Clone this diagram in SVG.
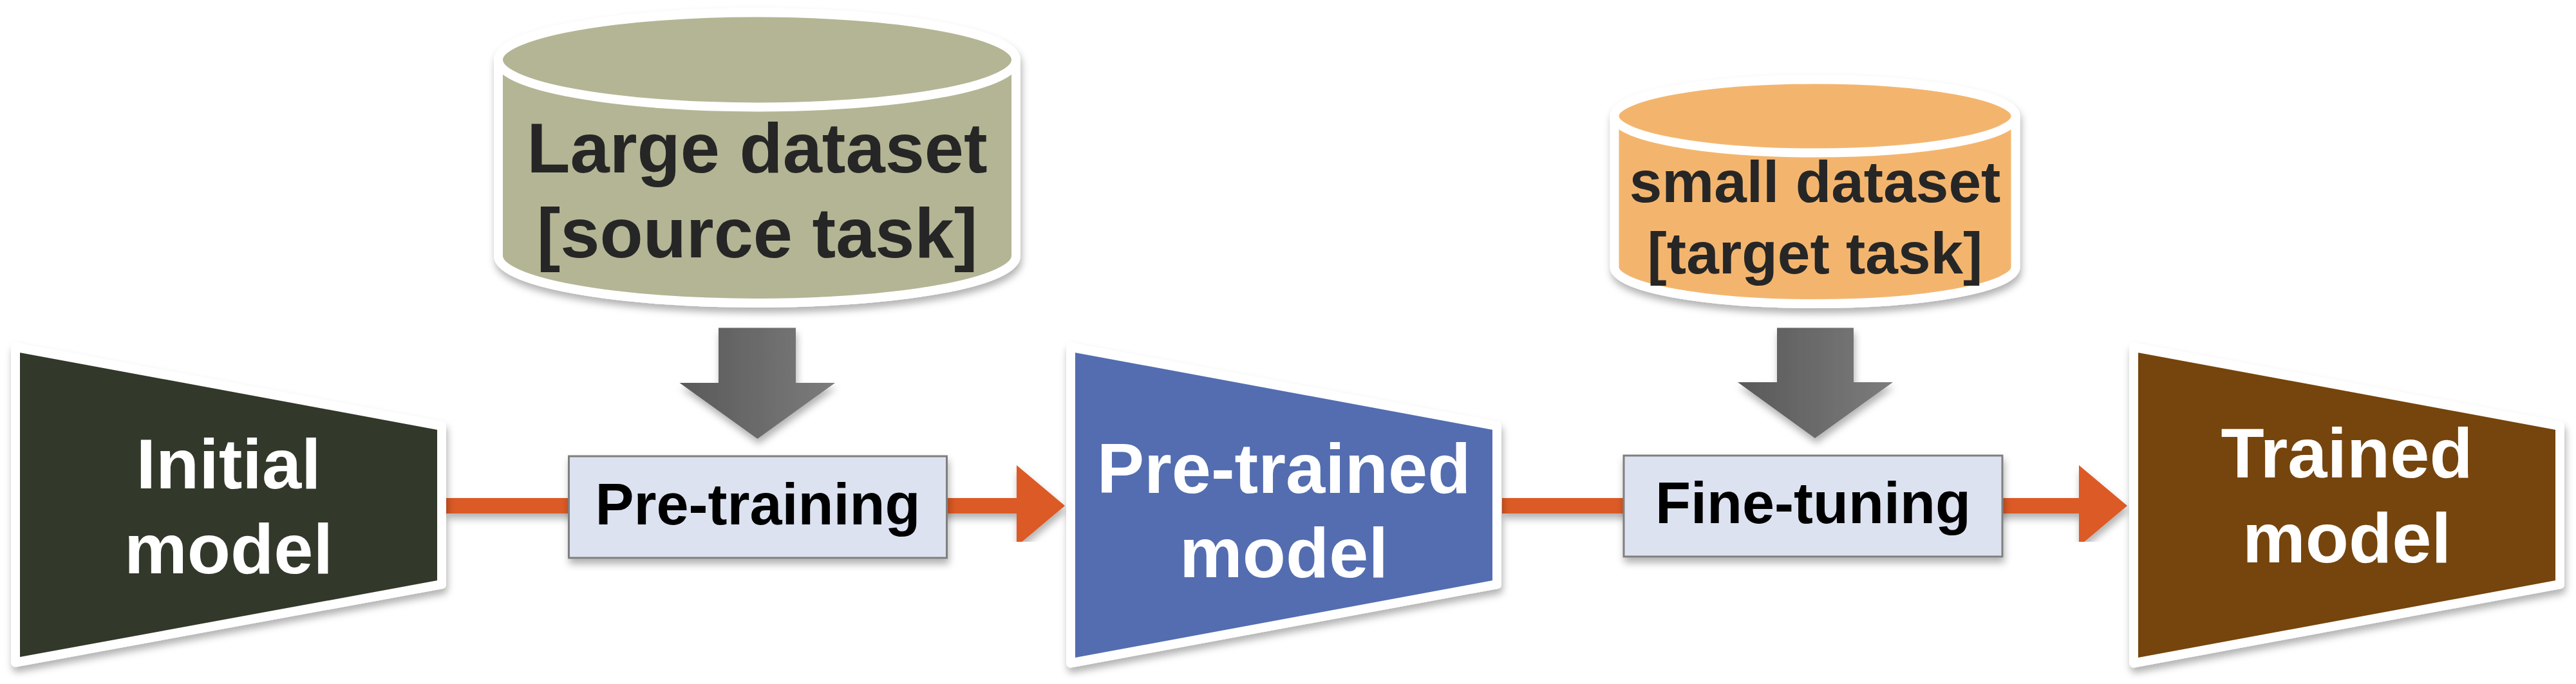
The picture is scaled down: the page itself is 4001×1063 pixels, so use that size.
<svg xmlns="http://www.w3.org/2000/svg" width="4001" height="1063" viewBox="0 0 4001 1063">
<defs>
<filter id="sh" x="-10%" y="-10%" width="120%" height="130%">
<feDropShadow dx="2" dy="8" stdDeviation="6" flood-color="#000" flood-opacity="0.3"/>
</filter>
<linearGradient id="gray" x1="0" y1="0" x2="1" y2="0">
<stop offset="0" stop-color="#595959"/>
<stop offset="1" stop-color="#7c7c7c"/>
</linearGradient>
<marker id="ah" markerUnits="userSpaceOnUse" markerWidth="75" markerHeight="126" viewBox="0 0 75 126" refX="1" refY="63" orient="auto">
<path d="M0,0 L75,63 L0,126 Z" fill="#dc5a25"/>
</marker>
</defs>
<style>
.trap{stroke:#fff;stroke-width:14;stroke-linejoin:round}
.cyl{stroke:#fff;stroke-width:14;stroke-linejoin:round}
.wt{font-family:"Liberation Sans",Arial,sans-serif;font-weight:bold;font-size:110px;fill:#fff;text-anchor:middle}
.dt{font-family:"Liberation Sans",Arial,sans-serif;font-weight:bold;fill:#262626;text-anchor:middle}
.bt{font-family:"Liberation Sans",Arial,sans-serif;font-weight:bold;font-size:90px;fill:#000;text-anchor:middle}
.box{fill:#dce2f0;stroke:#7f7f7f;stroke-width:3}
.conn{fill:none;stroke:#dc5a25;stroke-width:24}
.garrow{fill:url(#gray)}
</style>
<rect width="4001" height="1063" fill="#fff"/>

<g id="connectors" filter="url(#sh)">
<path class="conn" d="M693,786 L1580,786" marker-end="url(#ah)"/>
<path class="conn" d="M2333,786 L3230,786" marker-end="url(#ah)"/>
<polygon class="garrow" points="1116,509.5 1236,509.5 1236,595 1297,595 1176.5,682 1055.5,595 1116,595"/>
<polygon class="garrow" points="2760,509.5 2879,509.5 2879,594 2940,594 2819,681 2699,594 2760,594"/>
</g>

<g id="initial-model">
<polygon class="trap" filter="url(#sh)" fill="#33382a" points="24,539.5 686,662 686,908 24,1029.5"/>
<text class="wt" x="355" y="759">Initial</text>
<text class="wt" x="355" y="891">model</text>
</g>

<g id="pretrained-model">
<polygon class="trap" filter="url(#sh)" fill="#526db0" points="1663,539.5 2325,662 2325,908 1663,1030.5"/>
<text class="wt" x="1994" y="766">Pre-trained</text>
<text class="wt" x="1994" y="897">model</text>
</g>

<g id="trained-model">
<polygon class="trap" filter="url(#sh)" fill="#744409" points="3314,539.5 3976,662 3976,908 3314,1030.5"/>
<text class="wt" x="3645" y="742">Trained</text>
<text class="wt" x="3645" y="874">model</text>
</g>

<g id="pre-training">
<rect class="box" filter="url(#sh)" x="883.5" y="709" width="587" height="158"/>
<text class="bt" x="1177" y="815">Pre-training</text>
</g>

<g id="fine-tuning">
<rect class="box" filter="url(#sh)" x="2522" y="708" width="588" height="157"/>
<text class="bt" x="2816" y="813">Fine-tuning</text>
</g>

<g id="large-dataset">
<g filter="url(#sh)">
<path class="cyl" fill="#b4b594" d="M774,93 L774,397.5 A402,73.5 0 0 0 1578,397.5 L1578,93 A402,73.5 0 0 0 774,93 Z"/>
<ellipse class="cyl" fill="#b4b594" cx="1176" cy="93" rx="402" ry="73.5"/>
</g>
<text class="dt" font-size="110" x="1176" y="268">Large dataset</text>
<text class="dt" font-size="110" x="1176" y="400">[source task]</text>
</g>

<g id="small-dataset">
<g filter="url(#sh)">
<path class="cyl" fill="#f3b56e" d="M2507.5,180.5 L2507.5,415 A311.5,57 0 0 0 3130.5,415 L3130.5,180.5 A311.5,57 0 0 0 2507.5,180.5 Z"/>
<ellipse class="cyl" fill="#f3b56e" cx="2819" cy="180.5" rx="311.5" ry="57"/>
</g>
<text class="dt" font-size="91" x="2819" y="313.5">small dataset</text>
<text class="dt" font-size="91" x="2819" y="424.5">[target task]</text>
</g>
</svg>
